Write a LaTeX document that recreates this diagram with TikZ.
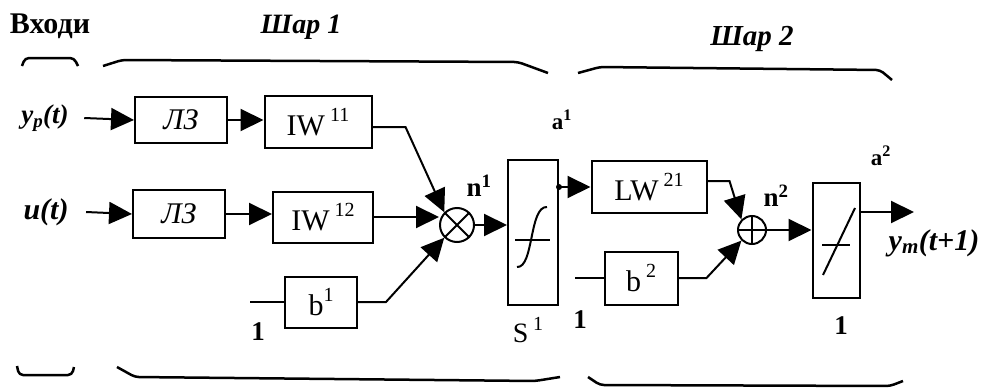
\documentclass[tikz,border=0pt]{standalone}
\usepackage{fontspec}
\setmainfont{Liberation Serif}
\usetikzlibrary{arrows.meta}
\newcommand\hi[1]{\raisebox{0.45em}{\fontsize{20}{22}\selectfont #1}}
\tikzset{
  blk/.style={draw,line width=2pt,inner sep=0pt,font=\fontsize{30}{34}\selectfont},
  junc/.style={draw,circle,line width=2pt,minimum size=#1,inner sep=0pt},
  wire/.style={line width=2pt},
  arr/.style={-{Triangle[length=23pt,width=22pt]}},
  brc/.style={line width=2.5pt,rounded corners=4pt},
  lbl/.style={font=\fontsize{27}{30}\selectfont\bfseries},
  slbl/.style={font=\fontsize{23}{26}\selectfont\bfseries},
  ilbl/.style={font=\fontsize{28}{32}\selectfont\bfseries\itshape},
}
\begin{document}
\begin{tikzpicture}[x=1pt,y=-1pt]
\useasboundingbox (0,0) rectangle (987,388);
% headings and braces
\node[lbl,font=\fontsize{30}{34}\selectfont\bfseries] (inp) at (50,26) {Входи};
\node[ilbl] (lay1) at (301,27) {Шар 1};
\node[ilbl,font=\fontsize{29}{33}\selectfont\bfseries\itshape] (lay2) at (752,39) {Шар 2};
\draw[brc] (22,66) -- (25,58) -- (74,58) -- (78,66);
\draw[brc] (103,66) -- (122,60) -- (518,62) -- (548,73);
\draw[brc] (578,73) -- (600,67) -- (880,70) -- (892,80);
\draw[brc] (17,366) -- (19,375) -- (72,375) -- (74,367);
\draw[brc] (117,367) -- (135,377) -- (535,381) -- (560,377);
\draw[brc] (588,377) -- (600,385) -- (890,386) -- (903,381);
% inputs
\node[ilbl,font=\fontsize{27}{30}\selectfont\bfseries\itshape] (yp) at (45,118) {y\textsubscript{p}(t)};
\node[ilbl,font=\fontsize{30}{34}\selectfont\bfseries\itshape] (u) at (46,212) {u(t)};
% layer 1
\node[blk,minimum width=92pt,minimum height=46pt] (lz1) at (181,120) {\textit{ЛЗ}};
\node[blk,minimum width=92pt,minimum height=48pt] (lz2) at (179,214) {\textit{ЛЗ}};
\node[blk,minimum width=107pt,minimum height=52pt] (iw11) at (318,122) {IW\,\hi{11}};
\node[blk,minimum width=100pt,minimum height=51pt] (iw12) at (323,217) {IW\,\hi{12}};
\node[blk,minimum width=72pt,minimum height=51pt] (b1) at (321,302) {b\hi{1}};
\coordinate (c1) at (250,302);
\node[lbl] (one1) at (258,332) {1};
\node[junc=34pt] (mult) at (457,225) {};
\draw[wire] (mult.45) -- (mult.225) (mult.135) -- (mult.-45);
\node[lbl] (n1) at (479,186) {n\textsuperscript{1}};
\node[blk,minimum width=50pt,minimum height=145pt] (s1) at (533,232) {};
\draw[wire] (517,267) .. controls (534,268) and (529,206) .. (547,207);
\draw[wire] (515,240) -- (550,240);
\node[font=\fontsize{28}{32}\selectfont] (s1lbl) at (528,330) {S\,\hi{1}};
\node[slbl] (a1) at (562,120) {a\textsuperscript{1}};
\draw[wire,arr] ([xshift=12pt]yp.east) -- (lz1.west);
\draw[wire,arr] ([xshift=14pt]u.east) -- (lz2.west);
\draw[wire,arr] (lz1.east) -- (lz1.east -| iw11.west);
\draw[wire,arr] (lz2.east) -- (lz2.east -| iw12.west);
\draw[wire,arr] ([yshift=-5pt]iw11.east) -- ++(33,0) -- (mult.135);
\draw[wire,arr] (iw12.east) -- (iw12.east -| mult.west);
\draw[wire] (c1) -- (b1.west);
\draw[wire,arr] (b1.east) -- ++(28,0) -- (mult.225);
\draw[wire,arr] (mult.east) -- (mult.east -| s1.west);
% layer 2
\node[blk,minimum width=115pt,minimum height=52pt] (lw21) at (649,187) {LW\,\hi{21}};
\node[blk,minimum width=73pt,minimum height=53pt] (b2) at (641,278) {b\,\hi{2}};
\coordinate (c2) at (575,278);
\node[lbl] (one2) at (580,320) {1};
\node[junc=28pt] (plus) at (752,230) {};
\draw[wire] (plus.north) -- (plus.south) (plus.west) -- (plus.east);
\node[lbl] (n2) at (776,196) {n\textsuperscript{2}};
\node[blk,minimum width=47pt,minimum height=115pt] (lin) at (836,240) {};
\draw[wire] (823,275) -- (855,208);
\draw[wire] (822,245) -- (850,245);
\node[lbl] (one3) at (841,326) {1};
\node[slbl] (a2) at (881,156) {a\textsuperscript{2}};
\node[ilbl,font=\fontsize{30}{34}\selectfont\bfseries\itshape] (ym) at (934,243) {y\textsubscript{m}(t+1)};
\coordinate (a1pt) at (s1.east |- lw21.west);
\fill (a1pt) circle (3pt);
\draw[wire,arr] (a1pt) -- (lw21.west);
\draw[wire,arr] ([yshift=6pt]lw21.east) -- ++(22,0) -- (plus.135);
\draw[wire] (c2) -- (b2.west);
\draw[wire,arr] (b2.east) -- ++(28,0) -- (plus.225);
\draw[wire,arr] (plus.east) -- (plus.east -| lin.west);
\coordinate (yout) at (914,212);
\draw[wire,arr] (lin.east |- yout) -- (yout);
\end{tikzpicture}
\end{document}
